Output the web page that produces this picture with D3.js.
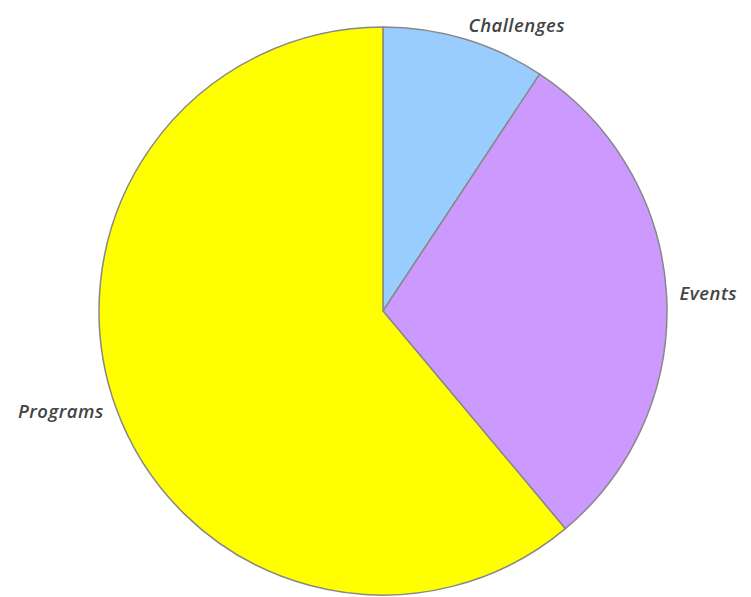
<!DOCTYPE html>
<html>
<head>
<meta charset="utf-8">
<script src="https://cdn.jsdelivr.net/npm/d3@7"></script>
<style>
  body { margin: 0; background: #fff; }
  svg { display: block; }
</style>
</head>
<body>
<svg id="chart" width="751" height="597"></svg>
<script>
// 各カテゴリの値（画像から読み取った割合）
const categories = ["Challenges", "Events", "Programs"];
const values = [9.3, 29.6, 61.1];
const colors = ["#99ccff", "#cc99ff", "#ffff00"];

const width = 751, height = 597;
const cx = 383, cy = 311;
const radius = 284;
const labelRadius = 297;

const data = categories.map((c, i) => ({ name: c, value: values[i], color: colors[i] }));

const svg = d3.select("#chart");
const g = svg.append("g").attr("transform", `translate(${cx},${cy})`);

const pie = d3.pie().value(d => d.value).sort(null);
const arc = d3.arc().innerRadius(0).outerRadius(radius);
const arcs = pie(data);

// 扇形の描画
g.selectAll("path.slice").data(arcs)
  .enter().append("path")
  .attr("class", "slice")
  .attr("d", arc)
  .attr("fill", d => d.data.color)
  .attr("stroke", "#888")
  .attr("stroke-width", 1.5)
  .attr("stroke-linejoin", "round");

// ラベル（右側は左揃え、左側は右揃え）
g.selectAll("text.label").data(arcs)
  .enter().append("text")
  .attr("class", "label")
  .attr("x", d => Math.sin((d.startAngle + d.endAngle) / 2) * labelRadius)
  .attr("y", d => -Math.cos((d.startAngle + d.endAngle) / 2) * labelRadius)
  .attr("dy", "0.3em")
  .attr("text-anchor", d => (d.startAngle + d.endAngle) / 2 < Math.PI ? "start" : "end")
  .style("font-family", "'Open Sans', sans-serif")
  .style("font-size", "18.5px")
  .style("font-weight", "600")
  .style("font-style", "italic")
  .style("letter-spacing", "0.5px")
  .style("fill", "#444")
  .text(d => d.data.name);
</script>
</body>
</html>
